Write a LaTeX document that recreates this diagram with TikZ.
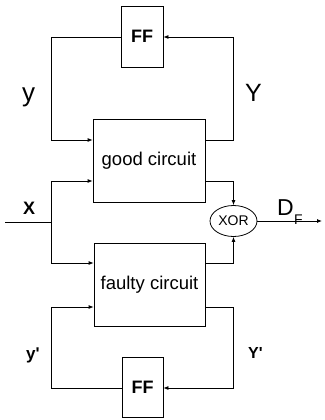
\documentclass[tikz,border=0pt]{standalone}
\usepackage{fontspec}
\setmainfont{Liberation Sans}
\usetikzlibrary{arrows.meta,shapes.geometric}
\begin{document}
\begin{tikzpicture}[x=1pt,y=-1pt,
  box/.style={draw,line width=0.8pt,inner sep=0pt,font=\fontsize{18.5}{20}\selectfont},
  ffbox/.style={box,font=\fontsize{18}{20}\selectfont\bfseries},
  wire/.style={draw,line width=0.8pt},
  arr/.style={wire,-{Latex[length=5pt,width=4pt]}},
  lab/.style={inner sep=0pt,anchor=base west}]
\useasboundingbox (0,0) rectangle (324,420);
% boxes
\node[ffbox,minimum width=42pt,minimum height=61pt] (ff1) at (142,36.5) {FF};
\node[box,minimum width=112pt,minimum height=83pt] (good) at (149,160.5) {good circuit};
\node[box,minimum width=111pt,minimum height=83pt] (faulty) at (149.5,284.5) {faulty circuit};
\node[ffbox,minimum width=41pt,minimum height=60pt] (ff2) at (142.5,387) {FF};
\node[draw,line width=0.8pt,ellipse,inner sep=0pt,minimum width=47pt,minimum height=31pt,
      font=\fontsize{14}{16}\selectfont] (xor) at (233.5,221) {XOR};
% coordinates
\coordinate (xin) at (5,222);
\coordinate (xj) at (51,222);
\coordinate (out) at (322,221);
% good circuit loop
\draw[arr] (ff1.west |- 0,37) -- (51,37) -- (51,140) -- (good.west |- 0,140);
\draw[arr] (good.east |- 0,140) -- (233,140) -- (233,37) -- (ff1.east |- 0,37);
% input x
\draw[wire] (xin) -- (xj);
\draw[arr] (xj) -- (51,181) -- (good.west |- 0,181);
\draw[arr] (xj) -- (51,263) -- (faulty.west |- 0,263);
% to XOR
\draw[arr] (good.east |- 0,181) -- (233.5,181) -- (xor.north);
\draw[arr] (faulty.east |- 0,263) -- (233.5,263) -- (xor.south);
\draw[arr] (xor.east) -- (out);
% faulty circuit loop
\draw[arr] (faulty.east |- 0,307) -- (233,307) -- (233,388) -- (ff2.east |- 0,388);
\draw[arr] (ff2.west |- 0,388) -- (51,388) -- (51,307) -- (faulty.west |- 0,307);
% labels
\node[lab,font=\fontsize{26}{28}\selectfont] (ly) at (22,101.5) {y};
\node[lab,font=\fontsize{25}{28}\selectfont] (lY) at (245,101) {Y};
\node[lab,font=\fontsize{18}{20}\selectfont\bfseries] (lx) at (23,214) {X};
\node[lab,font=\fontsize{23}{26}\selectfont] (lD) at (277,215) {D};
\node[lab,font=\fontsize{14}{16}\selectfont] (lF) at (294,224) {F};
\node[lab,font=\fontsize{17}{20}\selectfont\bfseries] (lyp) at (26,359.5) {y\textquotesingle};
\node[lab,font=\fontsize{16}{18}\selectfont\bfseries] (lYp) at (248,358) {Y\textquotesingle};
\end{tikzpicture}
\end{document}
